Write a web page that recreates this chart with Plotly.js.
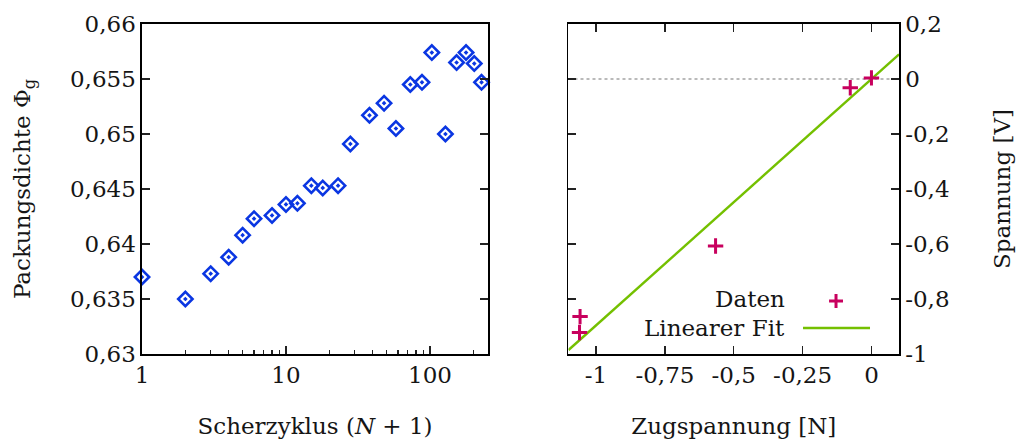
<!DOCTYPE html>
<html>
<head>
<meta charset="utf-8">
<script src="https://cdn.plot.ly/plotly-3.0.1.min.js"></script>
<style>
  html, body { margin: 0; padding: 0; background: #fff; }
  #chart { width: 1019px; height: 444px; }
</style>
</head>
<body>
<div id="chart"></div>
<script>
// Packing density vs. shear cycle (left)
const cycles = [1, 2, 3, 4, 5, 6, 8, 10, 12, 15, 18, 23, 28, 38, 48, 58, 73, 88, 103, 128, 153, 178, 203, 228];
const density = [0.6370, 0.6350, 0.6373, 0.6388, 0.6408, 0.6423, 0.6426, 0.6436, 0.6437, 0.6453, 0.6451, 0.6453,
                 0.6491, 0.6517, 0.6528, 0.6505, 0.6545, 0.6547, 0.6574, 0.6500, 0.6565, 0.6574, 0.6564, 0.6547];

// Voltage vs. tensile stress (right)
const force = [0, -0.077, -0.566, -1.058, -1.060];
const voltage = [0.004, -0.032, -0.607, -0.864, -0.922];
const fitSlope = 0.896;
const fitIntercept = 0.0;

// Axis ticks
const cycleTicks = [1, 10, 100];
const cycleTickText = ['1', '10', '100'];
const cycleMinorTicks = [2, 3, 4, 5, 6, 7, 8, 9, 20, 30, 40, 50, 60, 70, 80, 90, 200];
const densityTicks = [0.63, 0.635, 0.64, 0.645, 0.65, 0.655, 0.66];
const densityTickText = ['0,63', '0,635', '0,64', '0,645', '0,65', '0,655', '0,66'];
const forceTicks = [-1, -0.75, -0.5, -0.25, 0];
const forceTickText = ['-1', '-0,75', '-0,5', '-0,25', '0'];
const voltageTicks = [-1, -0.8, -0.6, -0.4, -0.2, 0, 0.2];
const voltageTickText = ['-1', '-0,8', '-0,6', '-0,4', '-0,2', '0', '0,2'];

const forceRange = [-1.1, 0.1];
const fitX = forceRange.slice();
const fitY = fitX.map(x => fitSlope * x + fitIntercept);

const FONT = 'DejaVu Serif, Liberation Serif, serif';
const FS = 23;
const TEXT = '#151515';
const BLUE = '#0a36e2';
const MAGENTA = '#c8005e';
const GREEN = '#74c000';

const traces = [
  {
    x: cycles, y: density, xaxis: 'x', yaxis: 'y',
    type: 'scatter', mode: 'markers', showlegend: false,
    marker: { symbol: 'diamond-open-dot', size: 11, color: BLUE, line: { width: 2.6, color: BLUE } },
    cliponaxis: false
  },
  {
    x: fitX, y: fitY, xaxis: 'x2', yaxis: 'y2',
    type: 'scatter', mode: 'lines', name: 'Linearer Fit', showlegend: false,
    line: { color: GREEN, width: 2.4 }
  },
  {
    x: force, y: voltage, xaxis: 'x2', yaxis: 'y2',
    type: 'scatter', mode: 'markers', name: 'Daten', showlegend: false,
    marker: { symbol: 'cross-thin', size: 11, color: MAGENTA, line: { width: 3, color: MAGENTA } },
    cliponaxis: false
  }
];

const axisBase = {
  showgrid: false, zeroline: false, showline: true, linecolor: '#000', linewidth: 1.6,
  ticks: 'inside', ticklen: 8, tickwidth: 1.3, tickcolor: '#222',
  tickfont: { family: FONT, size: FS, color: TEXT },
  mirror: 'ticks', fixedrange: true
};
const titleFont = { family: FONT, size: FS, color: TEXT };

const layout = {
  width: 1019, height: 444,
  margin: { l: 142, r: 120, t: 24, b: 90 },
  paper_bgcolor: '#fff', plot_bgcolor: '#fff',
  font: { family: FONT, size: FS, color: TEXT },
  showlegend: false,
  xaxis: Object.assign({}, axisBase, {
    domain: [0, 0.4571], type: 'log', range: [0, Math.log10(253)],
    tickmode: 'array', tickvals: cycleTicks, ticktext: cycleTickText,
    mirror: true,
    minor: { ticks: 'inside', ticklen: 4, tickwidth: 1.2, tickcolor: '#222', tickmode: 'array', tickvals: cycleMinorTicks },
    title: { text: 'Scherzyklus (<i>N</i> + 1)', font: titleFont, standoff: 30 },
    anchor: 'y'
  }),
  xaxis3: {
    domain: [0, 0.4571], type: 'log', range: [0, Math.log10(253)], overlaying: 'x', side: 'top', anchor: 'y',
    showgrid: false, zeroline: false, showline: false, showticklabels: false,
    ticks: 'inside', ticklen: 8, tickwidth: 1.3, tickcolor: '#222',
    tickmode: 'array', tickvals: cycleTicks, fixedrange: true
  },
  yaxis: Object.assign({}, axisBase, {
    domain: [0, 1], range: [0.63, 0.66],
    tickmode: 'array', tickvals: densityTicks, ticktext: densityTickText,
    title: { text: 'Packungsdichte Φ<sub>g</sub>', font: titleFont, standoff: 33 },
    anchor: 'x'
  }),
  xaxis2: Object.assign({}, axisBase, {
    domain: [0.5634, 1], range: forceRange,
    tickmode: 'array', tickvals: forceTicks, ticktext: forceTickText,
    title: { text: 'Zugspannung [N]', font: titleFont, standoff: 30 },
    anchor: 'y2'
  }),
  yaxis2: Object.assign({}, axisBase, {
    domain: [0, 1], range: [-1, 0.2], side: 'right',
    tickmode: 'array', tickvals: voltageTicks, ticktext: voltageTickText,
    title: { text: 'Spannung [V]', font: titleFont, standoff: 45 },
    anchor: 'x2'
  }),
  shapes: [
    // dotted reference line at 0 V
    { type: 'line', xref: 'x2 domain', yref: 'y2', x0: 0, x1: 1, y0: 0, y1: 0,
      line: { color: '#777', width: 1.2, dash: 'dot' }, layer: 'below' },
    // key samples (paper = plotting area)
    { type: 'line', xref: 'paper', yref: 'paper', x0: 0.9076, x1: 0.9260, y0: 0.1606, y1: 0.1606,
      line: { color: MAGENTA, width: 3 } },
    { type: 'line', xref: 'paper', yref: 'paper', x0: 0.9168, x1: 0.9168, y0: 0.1394, y1: 0.1818,
      line: { color: MAGENTA, width: 3 } },
    { type: 'line', xref: 'paper', yref: 'paper', x0: 0.8732, x1: 0.9617, y0: 0.0788, y1: 0.0788,
      line: { color: GREEN, width: 2.4 } }
  ],
  annotations: [
    { text: 'Daten', xref: 'paper', yref: 'paper', x: 0.8520, y: 0.1667, xanchor: 'right', yanchor: 'middle',
      showarrow: false, font: titleFont },
    { text: 'Linearer Fit', xref: 'paper', yref: 'paper', x: 0.8520, y: 0.0788, xanchor: 'right', yanchor: 'middle',
      showarrow: false, font: titleFont }
  ]
};

Plotly.newPlot('chart', traces, layout, { staticPlot: true, displayModeBar: false });
</script>
</body>
</html>
